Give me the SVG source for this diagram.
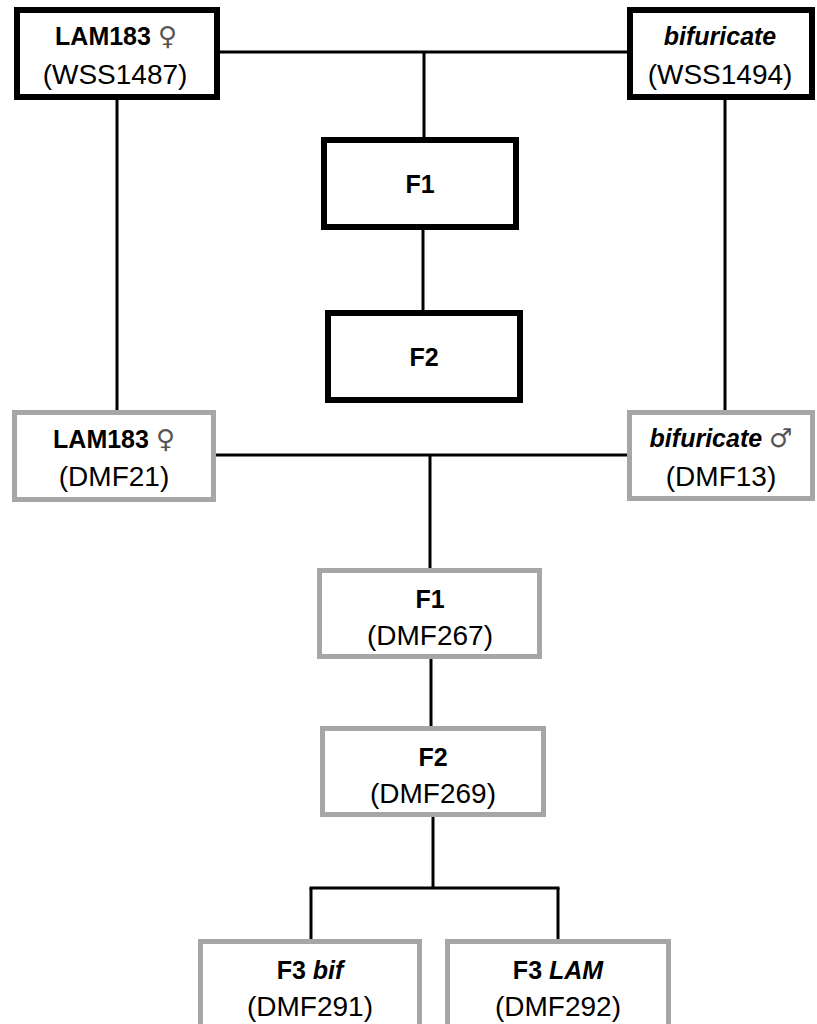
<svg xmlns="http://www.w3.org/2000/svg" width="817" height="1024" viewBox="0 0 817 1024">
<style>
.blk{fill:#fff;stroke:#000;stroke-width:6}
.gry{fill:#fff;stroke:#a6a6a6;stroke-width:5}
.t1{font-family:"Liberation Sans",Arial,sans-serif;font-size:25px;font-weight:bold;text-anchor:middle;fill:#000}
.t2{font-family:"Liberation Sans",Arial,sans-serif;font-size:28px;text-anchor:middle;fill:#000}
.sym{font-family:"DejaVu Sans",sans-serif;font-weight:normal;font-size:26px;fill:#555}
.it{font-style:italic}
#connectors line{stroke:#000;stroke-width:3}
</style>
<rect width="817" height="1024" fill="#fff"/>
<g id="connectors">
<line x1="220" y1="52" x2="627" y2="52"/>
<line x1="424" y1="52" x2="424" y2="137"/>
<line x1="117" y1="100" x2="117" y2="410"/>
<line x1="725" y1="100" x2="725" y2="410"/>
<line x1="423" y1="230" x2="423" y2="310"/>
<line x1="216" y1="455" x2="627" y2="455"/>
<line x1="430" y1="455" x2="430" y2="568"/>
<line x1="431" y1="659" x2="431" y2="726"/>
<line x1="433" y1="817" x2="433" y2="888"/>
<line x1="309.5" y1="888" x2="559.5" y2="888"/>
<line x1="311" y1="888" x2="311" y2="939"/>
<line x1="558" y1="888" x2="558" y2="939"/>
</g>
<g id="lam183-wss1487">
<rect class="blk" x="17" y="10" width="200" height="87"/>
<text class="t1" x="116" y="45">LAM183 <tspan class="sym">♀</tspan></text>
<text class="t2" x="115" y="84">(WSS1487)</text>
</g>
<g id="bif-wss1494">
<rect class="blk" x="630" y="10" width="182" height="87"/>
<text class="t1 it" x="720" y="45">bifuricate</text>
<text class="t2" x="720" y="84">(WSS1494)</text>
</g>
<g id="f1-top">
<rect class="blk" x="324" y="140" width="192" height="87"/>
<text class="t1" x="420" y="193">F1</text>
</g>
<g id="f2-top">
<rect class="blk" x="328" y="313" width="192" height="87"/>
<text class="t1" x="424" y="366">F2</text>
</g>
<g id="lam183-dmf21">
<rect class="gry" x="14.5" y="412.5" width="199" height="87"/>
<text class="t1" x="114" y="448">LAM183 <tspan class="sym">♀</tspan></text>
<text class="t2" x="114" y="486">(DMF21)</text>
</g>
<g id="bif-dmf13">
<rect class="gry" x="629.5" y="412.5" width="183" height="86"/>
<text class="t1" x="721" y="447"><tspan class="it">bifuricate</tspan> <tspan class="sym">♂</tspan></text>
<text class="t2" x="721" y="486">(DMF13)</text>
</g>
<g id="f1-dmf267">
<rect class="gry" x="319.5" y="570.5" width="220" height="86"/>
<text class="t1" x="430" y="608">F1</text>
<text class="t2" x="430" y="645">(DMF267)</text>
</g>
<g id="f2-dmf269">
<rect class="gry" x="322.5" y="728.5" width="221" height="86"/>
<text class="t1" x="433" y="766">F2</text>
<text class="t2" x="433" y="803">(DMF269)</text>
</g>
<g id="f3-bif">
<rect class="gry" x="200.5" y="941.5" width="219" height="100"/>
<text class="t1" x="310" y="979">F3 <tspan class="it">bif</tspan></text>
<text class="t2" x="310" y="1016">(DMF291)</text>
</g>
<g id="f3-lam">
<rect class="gry" x="447.5" y="941.5" width="221" height="100"/>
<text class="t1" x="558" y="979">F3 <tspan class="it">LAM</tspan></text>
<text class="t2" x="558" y="1016">(DMF292)</text>
</g>
</svg>
